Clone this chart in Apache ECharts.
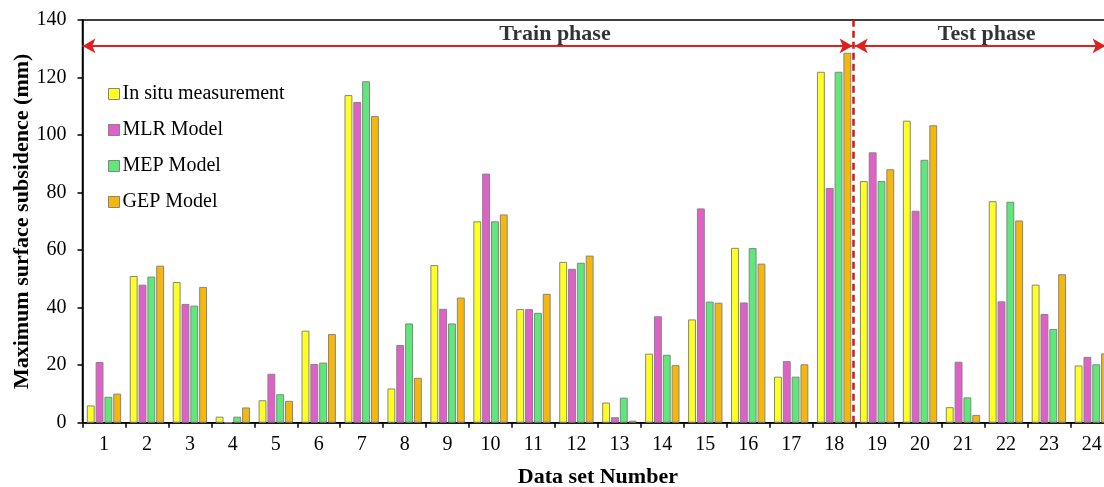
<!DOCTYPE html>
<html>
<head>
<meta charset="utf-8">
<script src="https://cdn.jsdelivr.net/npm/echarts@6/dist/echarts.min.js"></script>
<style>
html,body{margin:0;padding:0;background:#fff;}
#chart{width:1104px;height:487px;}
</style>
</head>
<body>
<div id="chart"></div>
<script>
const categories = ['1','2','3','4','5','6','7','8','9','10','11','12','13','14','15','16','17','18','19','20','21','22','23','24'];
const seriesNames = ['In situ measurement','MLR Model','MEP Model','GEP Model'];
const inSitu = [6.0,51.0,48.9,2.1,7.8,32.0,113.9,11.9,54.8,70.0,39.5,55.9,7.0,24.0,35.9,60.8,16.0,122.0,84.0,105.0,5.4,77.0,48.0,19.9];
const mlr    = [21.1,48.0,41.3,0,17.0,20.4,111.5,27.0,39.6,86.6,39.5,53.5,1.9,37.0,74.5,41.8,21.4,81.6,94.0,73.7,21.2,42.2,37.8,22.9];
const mep    = [9.0,50.8,40.7,2.1,9.9,20.9,118.7,34.5,34.5,70.0,38.2,55.6,8.7,23.6,42.1,60.7,16.0,122.0,84.0,91.4,8.8,76.8,32.6,20.3];
const gep    = [10.1,54.6,47.2,5.3,7.6,30.8,106.6,15.6,43.5,72.4,44.8,58.1,0.7,20.0,41.7,55.3,20.3,128.6,88.1,103.4,2.7,70.3,51.6,24.1];
const phaseLabels = ['Train phase','Test phase'];
const yTicks = [0,20,40,60,80,100,120,140];

const colors = ['#FFFF22','#E060C8','#5EE87A','#F5B80A'];
const values = [inSitu, mlr, mep, gep];
const serif = '"Liberation Serif", "Times New Roman", serif';

const barSeries = values.map((v, i) => ({
  name: seriesNames[i],
  type: 'bar',
  data: v,
  barGap: '12%',
  barCategoryGap: '20%',
  itemStyle: { color: colors[i], borderColor: '#858585', borderWidth: 1 }
}));

const chart = echarts.init(document.getElementById('chart'), null, {renderer: 'canvas'});
chart.setOption({
  animation: false,
  backgroundColor: '#fff',
  textStyle: { fontFamily: serif },
  grid: { left: 82.5, right: -9.3, top: 20, bottom: 64.3, show: true, borderColor: '#000', borderWidth: 1.5, backgroundColor: 'transparent', containLabel: false, outerBoundsMode: 'none' },
  legend: {
    orient: 'vertical', left: 103, top: 79,
    itemWidth: 11, itemHeight: 11, itemGap: 16,
    icon: 'rect',
    data: seriesNames.map((n) => ({ name: n, itemStyle: { borderColor: '#858585', borderWidth: 1 } })),
    textStyle: { fontFamily: serif, fontSize: 20, color: '#000', lineHeight: 20, padding: [0,0,0,-2] }
  },
  xAxis: [{
    type: 'category', data: categories,
    name: 'Data set Number', nameLocation: 'middle', nameGap: 44, nameMoveOverlap: false,
    nameTextStyle: { fontFamily: serif, fontSize: 22, fontWeight: 'bold', color: '#000' },
    axisLine: { lineStyle: { color: '#000', width: 1.5 } },
    axisTick: { show: true, length: 5, inside: false, lineStyle: { color: '#000', width: 1.5 } },
    axisLabel: { fontFamily: serif, fontSize: 20, color: '#000', margin: 12 }
  }, {
    type: 'value', min: 0, max: 24, show: false
  }],
  yAxis: {
    type: 'value', min: 0, max: 140, interval: 20,
    name: 'Maximum surface subsidence (mm)', nameLocation: 'middle', nameGap: 49, nameMoveOverlap: false,
    nameTextStyle: { fontFamily: serif, fontSize: 22, fontWeight: 'bold', color: '#000' },
    axisLine: { show: true, lineStyle: { color: '#000', width: 1.5 } },
    axisTick: { show: true, length: 5, lineStyle: { color: '#000', width: 1.5 } },
    axisLabel: { fontFamily: serif, fontSize: 20, color: '#000', margin: 16, formatter: (v) => yTicks.includes(v) ? String(v) : '' },
    splitLine: { show: false }
  },
  series: barSeries.concat([{
    type: 'line', xAxisIndex: 1, data: [], silent: true,
    markLine: {
      silent: true, animation: false,
      label: { show: false },
      data: [
        [{ coord: [0, 131], symbol: 'arrow', symbolSize: [11, 13], lineStyle: { color: '#E02020', width: 2, type: 'solid' } },
         { coord: [17.93, 131], symbol: 'arrow', symbolSize: [11, 13] }],
        [{ coord: [17.98, 131], symbol: 'arrow', symbolSize: [11, 13], lineStyle: { color: '#E02020', width: 2, type: 'solid' } },
         { coord: [23.82, 131], symbol: 'arrow', symbolSize: [11, 13] }],
        [{ coord: [17.95, 0], symbol: 'none', lineStyle: { color: '#D01818', width: 2.5, type: [7, 4] } },
         { coord: [17.95, 140], symbol: 'none' }]
      ]
    }
  }, {
    type: 'scatter', xAxisIndex: 1, silent: true, symbolSize: 0,
    data: [[11.0, 134.9, phaseLabels[0]], [21.05, 134.9, phaseLabels[1]]],
    label: { show: true, position: 'inside', formatter: (p) => p.data[2], fontFamily: serif, fontSize: 22, fontWeight: 'bold', color: '#000' }
  }])
});
</script>
</body>
</html>
